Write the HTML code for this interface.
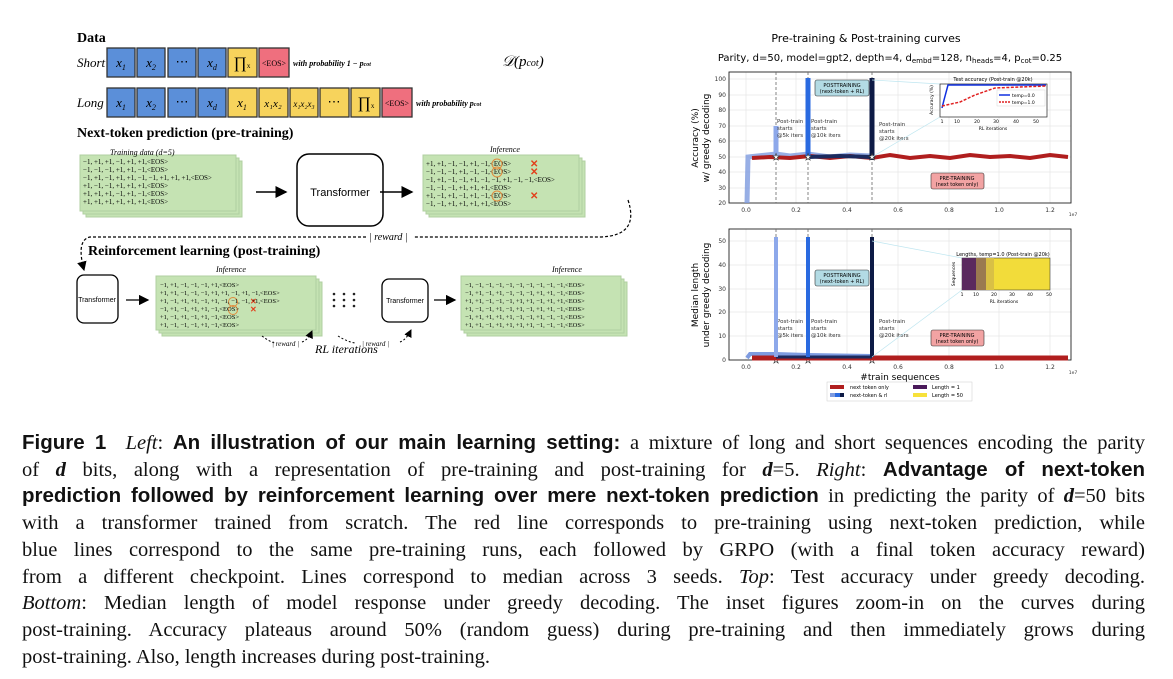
<!DOCTYPE html>
<html><head><meta charset="utf-8"><style>
body{margin:0;background:#fff;width:1173px;height:679px;overflow:hidden;position:relative;font-family:"Liberation Serif",serif}
svg{position:absolute;left:0;top:0}
.cap{position:absolute;left:22px;top:430px;width:1123px;font-size:20.5px;line-height:26.7px;color:#111}
.cap div{text-align:justify;text-align-last:justify;white-space:nowrap}
.cap div.l{text-align-last:left}
.b{font-family:"Liberation Sans",sans-serif;font-weight:bold}
</style></head><body>
<svg width="1173" height="420" viewBox="0 0 1173 420" font-family="Liberation Serif, serif">
<defs>
<marker id="ar" markerWidth="8" markerHeight="8" refX="7" refY="4" orient="auto"><path d="M0,0L8,4L0,8z" fill="#000"/></marker>
</defs>
<text x="77" y="42" font-size="14" font-weight="bold">Data</text>
<text x="77" y="67" font-size="13" font-style="italic">Short</text>
<text x="77" y="107" font-size="13" font-style="italic">Long</text>
<g stroke="#333" stroke-width="1.3">
<rect x="107" y="48" width="28" height="29" fill="#5b8fd9"/><rect x="137" y="48" width="28" height="29" fill="#5b8fd9"/>
<rect x="168" y="48" width="28" height="29" fill="#5b8fd9"/><rect x="198" y="48" width="28" height="29" fill="#5b8fd9"/>
<rect x="228" y="48" width="29" height="29" fill="#f7d35c"/><rect x="259" y="48" width="30" height="29" fill="#ef6f7e"/>
<rect x="107" y="88" width="28" height="29" fill="#5b8fd9"/><rect x="137" y="88" width="28" height="29" fill="#5b8fd9"/>
<rect x="168" y="88" width="28" height="29" fill="#5b8fd9"/><rect x="198" y="88" width="28" height="29" fill="#5b8fd9"/>
<rect x="228" y="88" width="29" height="29" fill="#f7d35c"/><rect x="259" y="88" width="29" height="29" fill="#f7d35c"/>
<rect x="290" y="88" width="28" height="29" fill="#f7d35c"/><rect x="320" y="88" width="29" height="29" fill="#f7d35c"/>
<rect x="351" y="88" width="29" height="29" fill="#f7d35c"/><rect x="382" y="88" width="30" height="29" fill="#ef6f7e"/>
</g>
<g font-size="13" font-style="italic" text-anchor="middle">
<text x="121" y="67">x<tspan font-size="8" dy="3">1</tspan></text><text x="151" y="67">x<tspan font-size="8" dy="3">2</tspan></text>
<text x="182" y="66" font-style="normal">⋯</text><text x="212" y="67">x<tspan font-size="8" dy="3">d</tspan></text>
<text x="242" y="68" font-size="16" font-style="normal">∏<tspan font-size="7">x</tspan></text>
<text x="274" y="66" font-size="8" font-style="normal">&lt;EOS&gt;</text>
<text x="121" y="107">x<tspan font-size="8" dy="3">1</tspan></text><text x="151" y="107">x<tspan font-size="8" dy="3">2</tspan></text>
<text x="182" y="106" font-style="normal">⋯</text><text x="212" y="107">x<tspan font-size="8" dy="3">d</tspan></text>
<text x="242" y="107">x<tspan font-size="8" dy="3">1</tspan></text>
<text x="273" y="107" font-size="11">x₁x₂</text><text x="304" y="107" font-size="9">x₁x₂x₃</text>
<text x="334" y="106" font-style="normal">⋯</text>
<text x="366" y="108" font-size="16" font-style="normal">∏<tspan font-size="7">x</tspan></text>
<text x="397" y="106" font-size="8" font-style="normal">&lt;EOS&gt;</text>
</g>
<text x="293" y="66" font-size="8" font-style="italic" font-weight="bold">with probability 1 − p<tspan font-size="6">cot</tspan></text>
<text x="416" y="106" font-size="8" font-style="italic" font-weight="bold">with probability p<tspan font-size="6">cot</tspan></text>
<text x="502" y="66" font-size="15" font-style="italic">𝒟(p<tspan font-size="10">cot</tspan>)</text>
<text x="77" y="137" font-size="14" font-weight="bold">Next-token prediction (pre-training)</text>
<g fill="#c5e3b3" stroke="#b0cfa0">
<rect x="86" y="161" width="156" height="56"/><rect x="83" y="158" width="156" height="56"/><rect x="80" y="155" width="156" height="56"/>
<rect x="429" y="161" width="156" height="56"/><rect x="426" y="158" width="156" height="56"/><rect x="423" y="155" width="156" height="56"/>
<rect x="162" y="282" width="160" height="54"/><rect x="159" y="279" width="160" height="54"/><rect x="156" y="276" width="160" height="54"/>
<rect x="467" y="282" width="160" height="54"/><rect x="464" y="279" width="160" height="54"/><rect x="461" y="276" width="160" height="54"/>
</g>
<text x="110" y="155" font-size="8" font-style="italic">Training data (d=5)</text>
<g font-size="7">
<text x="83" y="164">−1, +1, +1, −1, +1, +1,&lt;EOS&gt;</text>
<text x="83" y="172">−1, −1, −1, +1, +1, −1,&lt;EOS&gt;</text>
<text x="83" y="180">−1, +1, −1, +1, +1, −1, −1, +1, +1, +1,&lt;EOS&gt;</text>
<text x="83" y="188">+1, −1, −1, +1, +1, +1,&lt;EOS&gt;</text>
<text x="83" y="196">+1, +1, +1, −1, +1, −1,&lt;EOS&gt;</text>
<text x="83" y="204">+1, +1, +1, +1, +1, +1,&lt;EOS&gt;</text>
</g>
<text x="490" y="152" font-size="8" font-style="italic">Inference</text>
<g font-size="7">
<text x="426" y="166">+1, +1, −1, −1, +1, −1,&lt;EOS&gt;</text>
<text x="426" y="174">−1, −1, −1, +1, −1, −1,&lt;EOS&gt;</text>
<text x="426" y="182">−1, +1, −1, −1, +1, −1, −1, +1, −1, −1,&lt;EOS&gt;</text>
<text x="426" y="190">−1, −1, −1, +1, +1, +1,&lt;EOS&gt;</text>
<text x="426" y="198">+1, −1, +1, −1, +1, −1,&lt;EOS&gt;</text>
<text x="426" y="206">−1, −1, +1, +1, +1, +1,&lt;EOS&gt;</text>
</g>
<g fill="none" stroke="#e08a3c"><circle cx="497" cy="164" r="5"/><circle cx="497" cy="172" r="5"/><circle cx="497" cy="196" r="5"/>
<circle cx="233" cy="302" r="4.5"/><circle cx="233" cy="310" r="4.5"/></g>
<g fill="#e2401c" font-size="10" font-weight="bold"><text x="530" y="167">✕</text><text x="530" y="175">✕</text><text x="530" y="199">✕</text>
<text x="250" y="304" font-size="8">✕</text><text x="250" y="312" font-size="8">✕</text></g>
<rect x="297" y="154" width="86" height="72" rx="12" fill="#fff" stroke="#000" stroke-width="1.5"/>
<text x="340" y="196" font-size="11" font-family="Liberation Sans, sans-serif" text-anchor="middle">Transformer</text>
<line x1="256" y1="192" x2="286" y2="192" stroke="#000" stroke-width="1.5" marker-end="url(#ar)"/>
<line x1="380" y1="192" x2="412" y2="192" stroke="#000" stroke-width="1.5" marker-end="url(#ar)"/>
<path d="M628,200 Q640,236 600,237 L414,237 M366,237 L90,237 Q76,240 84,270" fill="none" stroke="#000" stroke-dasharray="3,2" stroke-width="1.2" marker-end="url(#ar)"/>
<text x="369" y="240" font-size="10" font-style="italic">| reward |</text>
<text x="88" y="255" font-size="14" font-weight="bold">Reinforcement learning (post-training)</text>
<rect x="77" y="275" width="41" height="48" rx="7" fill="#fff" stroke="#000" stroke-width="1.3"/>
<text x="97" y="302" font-size="7" font-family="Liberation Sans, sans-serif" text-anchor="middle">Transformer</text>
<line x1="126" y1="300" x2="148" y2="300" stroke="#000" stroke-width="1.3" marker-end="url(#ar)"/>
<text x="216" y="272" font-size="8" font-style="italic">Inference</text>
<g font-size="6.5">
<text x="160" y="287">−1, +1, −1, −1, −1, +1,&lt;EOS&gt;</text>
<text x="160" y="295">+1, +1, −1, −1, −1, +1, +1, −1, +1, −1,&lt;EOS&gt;</text>
<text x="160" y="303">+1, −1, +1, +1, −1, +1, −1, −1, −1, +1,&lt;EOS&gt;</text>
<text x="160" y="311">−1, +1, −1, +1, +1, −1,&lt;EOS&gt;</text>
<text x="160" y="319">+1, −1, +1, −1, +1, −1,&lt;EOS&gt;</text>
<text x="160" y="327">+1, −1, −1, −1, +1, −1,&lt;EOS&gt;</text>
</g>
<g fill="#222"><circle cx="334" cy="294" r="1.3"/><circle cx="334" cy="300" r="1.3"/><circle cx="334" cy="306" r="1.3"/>
<circle cx="344" cy="294" r="1.3"/><circle cx="344" cy="300" r="1.3"/><circle cx="344" cy="306" r="1.3"/>
<circle cx="354" cy="294" r="1.3"/><circle cx="354" cy="300" r="1.3"/><circle cx="354" cy="306" r="1.3"/></g>
<rect x="382" y="279" width="46" height="43" rx="7" fill="#fff" stroke="#000" stroke-width="1.3"/>
<text x="405" y="303" font-size="7" font-family="Liberation Sans, sans-serif" text-anchor="middle">Transformer</text>
<line x1="434" y1="300" x2="455" y2="300" stroke="#000" stroke-width="1.3" marker-end="url(#ar)"/>
<text x="552" y="272" font-size="8" font-style="italic">Inference</text>
<g font-size="6.5">
<text x="465" y="287">−1, −1, −1, −1, −1, −1, −1, −1, −1, −1,&lt;EOS&gt;</text>
<text x="465" y="295">−1, +1, −1, +1, −1, −1, −1, +1, +1, −1,&lt;EOS&gt;</text>
<text x="465" y="303">+1, +1, −1, −1, −1, +1, +1, −1, +1, +1,&lt;EOS&gt;</text>
<text x="465" y="311">+1, −1, −1, +1, −1, +1, −1, +1, +1, −1,&lt;EOS&gt;</text>
<text x="465" y="319">−1, +1, +1, +1, +1, −1, −1, +1, −1, −1,&lt;EOS&gt;</text>
<text x="465" y="327">+1, +1, −1, +1, +1, +1, +1, −1, −1, −1,&lt;EOS&gt;</text>
</g>
<g fill="none" stroke="#000" stroke-dasharray="2,2" stroke-width="1"><path d="M262,336 Q270,342 275,343"/><path d="M302,342 Q308,340 312,331" marker-end="url(#ar)"/>
<path d="M338,336 Q348,342 355,343"/><path d="M400,342 Q406,340 411,330" marker-end="url(#ar)"/></g>
<text x="272" y="346" font-size="7" font-style="italic">| reward |</text>
<text x="362" y="346" font-size="7" font-style="italic">| reward |</text>
<text x="315" y="353" font-size="12" font-style="italic">RL iterations</text>

<g font-family="DejaVu Sans, sans-serif">
<text x="866" y="42" font-size="11" text-anchor="middle">Pre-training &amp; Post-training curves</text>
<text x="890" y="61" font-size="10" text-anchor="middle">Parity, d=50, model=gpt2, depth=4, d<tspan font-size="7" dy="2">embd</tspan><tspan dy="-2">=128, n</tspan><tspan font-size="7" dy="2">heads</tspan><tspan dy="-2">=4, p</tspan><tspan font-size="7" dy="2">cot</tspan><tspan dy="-2">=0.25</tspan></text>
<g stroke="#e6e6e6" stroke-width="0.7">
<line x1="729" y1="79" x2="1071" y2="79"/><line x1="729" y1="95" x2="1071" y2="95"/><line x1="729" y1="110" x2="1071" y2="110"/><line x1="729" y1="126" x2="1071" y2="126"/><line x1="729" y1="141" x2="1071" y2="141"/><line x1="729" y1="157" x2="1071" y2="157"/><line x1="729" y1="172" x2="1071" y2="172"/><line x1="729" y1="188" x2="1071" y2="188"/>
<line x1="746" y1="72" x2="746" y2="203"/><line x1="796" y1="72" x2="796" y2="203"/><line x1="847" y1="72" x2="847" y2="203"/><line x1="898" y1="72" x2="898" y2="203"/><line x1="949" y1="72" x2="949" y2="203"/><line x1="999" y1="72" x2="999" y2="203"/><line x1="1050" y1="72" x2="1050" y2="203"/>
<line x1="746" y1="229" x2="746" y2="360"/><line x1="796" y1="229" x2="796" y2="360"/><line x1="847" y1="229" x2="847" y2="360"/><line x1="898" y1="229" x2="898" y2="360"/><line x1="949" y1="229" x2="949" y2="360"/><line x1="999" y1="229" x2="999" y2="360"/><line x1="1050" y1="229" x2="1050" y2="360"/>
<line x1="729" y1="241" x2="1071" y2="241"/><line x1="729" y1="265" x2="1071" y2="265"/><line x1="729" y1="289" x2="1071" y2="289"/><line x1="729" y1="312" x2="1071" y2="312"/><line x1="729" y1="336" x2="1071" y2="336"/>
</g>
<rect x="729" y="72" width="342" height="131" fill="none" stroke="#222" stroke-width="0.9"/>
<rect x="729" y="229" width="342" height="131" fill="none" stroke="#222" stroke-width="0.9"/>
<g font-size="6" fill="#333" text-anchor="end">
<text x="726" y="81">100</text><text x="726" y="97">90</text><text x="726" y="112">80</text><text x="726" y="128">70</text><text x="726" y="143">60</text><text x="726" y="159">50</text><text x="726" y="174">40</text><text x="726" y="190">30</text><text x="726" y="205">20</text>
<text x="726" y="243">50</text><text x="726" y="267">40</text><text x="726" y="291">30</text><text x="726" y="314">20</text><text x="726" y="338">10</text><text x="726" y="362">0</text>
</g>
<g font-size="6" fill="#333" text-anchor="middle">
<text x="746" y="212">0.0</text><text x="796" y="212">0.2</text><text x="847" y="212">0.4</text><text x="898" y="212">0.6</text><text x="949" y="212">0.8</text><text x="999" y="212">1.0</text><text x="1050" y="212">1.2</text>
<text x="746" y="369">0.0</text><text x="796" y="369">0.2</text><text x="847" y="369">0.4</text><text x="898" y="369">0.6</text><text x="949" y="369">0.8</text><text x="999" y="369">1.0</text><text x="1050" y="369">1.2</text>
<text x="1073" y="216" font-size="4.5">1e7</text><text x="1073" y="374" font-size="4.5">1e7</text>
</g>
<text transform="translate(698,138) rotate(-90)" font-size="9" text-anchor="middle">Accuracy (%)</text>
<text transform="translate(709,138) rotate(-90)" font-size="9" text-anchor="middle">w/ greedy decoding</text>
<text transform="translate(698,295) rotate(-90)" font-size="9" text-anchor="middle">Median length</text>
<text transform="translate(709,295) rotate(-90)" font-size="9" text-anchor="middle">under greedy decoding</text>
<text x="900" y="380" font-size="9" text-anchor="middle">#train sequences</text>
<g stroke="#666" stroke-dasharray="3,2" stroke-width="0.8"><line x1="776" y1="72" x2="776" y2="203"/><line x1="808" y1="72" x2="808" y2="203"/><line x1="872" y1="72" x2="872" y2="203"/>
<line x1="776" y1="229" x2="776" y2="360"/><line x1="808" y1="229" x2="808" y2="360"/><line x1="872" y1="229" x2="872" y2="360"/></g>
<path d="M747,203 L748,157 L776,154 L790,156 L808,154 L830,157 L850,155 L872,156" stroke="#7e9be0" stroke-width="5" fill="none" opacity="0.8"/>
<path d="M752,158 L770,157 L790,158 L810,156 L830,158 L850,156 L872,158 L890,155 L910,158 L930,156 L950,158 L970,155 L990,157 L1010,156 L1030,158 L1050,155 L1068,157" stroke="#b01e1e" stroke-width="4" fill="none"/>
<path d="M808,157 L840,156 L872,157" stroke="#1b2a5e" stroke-width="4" fill="none"/>
<line x1="776" y1="157" x2="776" y2="126" stroke="#8da8ea" stroke-width="5"/>
<line x1="808" y1="157" x2="808" y2="78" stroke="#2a6ae0" stroke-width="5"/>
<line x1="872" y1="160" x2="872" y2="78" stroke="#0d1a45" stroke-width="5"/>
<g fill="#fff" stroke="#333" stroke-width="0.6" font-size="9" text-anchor="middle"><text x="776" y="160">★</text><text x="808" y="160">★</text><text x="872" y="160">★</text>
<text x="776" y="363">★</text><text x="808" y="363">★</text><text x="872" y="363">★</text></g>
<g font-size="5.5" fill="#333"><text x="777" y="123">Post-train</text><text x="777" y="130">starts</text><text x="777" y="137">@5k iters</text>
<text x="811" y="123">Post-train</text><text x="811" y="130">starts</text><text x="811" y="137">@10k iters</text>
<text x="879" y="126">Post-train</text><text x="879" y="133">starts</text><text x="879" y="140">@20k iters</text>
<text x="777" y="323">Post-train</text><text x="777" y="330">starts</text><text x="777" y="337">@5k iters</text>
<text x="811" y="323">Post-train</text><text x="811" y="330">starts</text><text x="811" y="337">@10k iters</text>
<text x="879" y="323">Post-train</text><text x="879" y="330">starts</text><text x="879" y="337">@20k iters</text></g>
<rect x="815" y="80" width="54" height="16" fill="#b3dbe4" stroke="#333" stroke-width="0.6" rx="2"/>
<text x="842" y="87" font-size="5" text-anchor="middle">POSTTRAINING</text><text x="842" y="93" font-size="5" text-anchor="middle">(next-token + RL)</text>
<rect x="931" y="173" width="53" height="16" fill="#f2a3a3" stroke="#333" stroke-width="0.6" rx="2"/>
<text x="957" y="180" font-size="5" text-anchor="middle">PRE-TRAINING</text><text x="957" y="186" font-size="5" text-anchor="middle">(next token only)</text>
<line x1="872" y1="80" x2="940" y2="84" stroke="#bfe6f0" stroke-width="0.7"/><line x1="872" y1="157" x2="940" y2="117" stroke="#bfe6f0" stroke-width="0.7"/>
<rect x="940" y="84" width="107" height="33" fill="#fff" stroke="#222" stroke-width="0.7"/>
<text x="993" y="81" font-size="5" text-anchor="middle">Test accuracy (Post-train @20k)</text>
<path d="M942,108 L944,100 L948,85 L1046,85" stroke="#1030e0" stroke-width="1.5" fill="none"/>
<path d="M942,106 L960,102 L975,95 L995,88 L1046,86" stroke="#e02020" stroke-width="1.5" stroke-dasharray="3,1.5" fill="none"/>
<rect x="997" y="90" width="48" height="16" fill="#fff" stroke="#ccc" stroke-width="0.4"/>
<line x1="999" y1="95" x2="1010" y2="95" stroke="#1030e0" stroke-width="1.5"/><text x="1012" y="97" font-size="4.5">temp=0.0</text>
<line x1="999" y1="102" x2="1010" y2="102" stroke="#e02020" stroke-width="1.5" stroke-dasharray="2,1"/><text x="1012" y="104" font-size="4.5">temp=1.0</text>
<g font-size="4.5" text-anchor="middle"><text x="942" y="123">1</text><text x="957" y="123">10</text><text x="977" y="123">20</text><text x="996" y="123">30</text><text x="1016" y="123">40</text><text x="1036" y="123">50</text><text x="993" y="130">RL iterations</text></g>
<text transform="translate(933,100) rotate(-90)" font-size="4.5" text-anchor="middle">Accuracy (%)</text>
<path d="M747,358 L750,354 L776,354 L808,355 L872,356" stroke="#7e9be0" stroke-width="4" fill="none"/>
<path d="M752,358 L1068,358" stroke="#b01e1e" stroke-width="5"/>
<path d="M776,357 L872,357" stroke="#1b2a5e" stroke-width="3"/>
<line x1="776" y1="357" x2="776" y2="237" stroke="#8da8ea" stroke-width="4"/>
<line x1="808" y1="357" x2="808" y2="237" stroke="#2a6ae0" stroke-width="4"/>
<line x1="872" y1="357" x2="872" y2="237" stroke="#0d1a45" stroke-width="4"/>
<rect x="815" y="270" width="54" height="16" fill="#b3dbe4" stroke="#333" stroke-width="0.6" rx="2"/>
<text x="842" y="277" font-size="5" text-anchor="middle">POSTTRAINING</text><text x="842" y="283" font-size="5" text-anchor="middle">(next-token + RL)</text>
<rect x="931" y="330" width="53" height="16" fill="#f2a3a3" stroke="#333" stroke-width="0.6" rx="2"/>
<text x="957" y="337" font-size="5" text-anchor="middle">PRE-TRAINING</text><text x="957" y="343" font-size="5" text-anchor="middle">(next token only)</text>
<line x1="872" y1="241" x2="962" y2="258" stroke="#bfe6f0" stroke-width="0.7"/><line x1="872" y1="357" x2="962" y2="290" stroke="#bfe6f0" stroke-width="0.7"/>
<text x="1003" y="256" font-size="5" text-anchor="middle">Lengths, temp=1.0 (Post-train @20k)</text>
<rect x="962" y="258" width="88" height="32" fill="#f2dc3a" stroke="#222" stroke-width="0.5"/>
<rect x="962" y="258" width="14" height="32" fill="#5a2a5e"/>
<rect x="976" y="258" width="10" height="32" fill="#9a7a50"/>
<rect x="986" y="258" width="8" height="32" fill="#d9c045"/>
<g font-size="4.5" text-anchor="middle"><text x="962" y="296">1</text><text x="976" y="296">10</text><text x="994" y="296">20</text><text x="1012" y="296">30</text><text x="1030" y="296">40</text><text x="1049" y="296">50</text><text x="1004" y="303">RL iterations</text></g>
<text transform="translate(955,274) rotate(-90)" font-size="4.5" text-anchor="middle">Sequences</text>
<rect x="827" y="382" width="145" height="19" fill="#fff" stroke="#ccc" stroke-width="0.5"/>
<rect x="830" y="385" width="14" height="4" fill="#b01e1e"/><text x="850" y="389" font-size="5">next token only</text>
<rect x="830" y="393" width="5" height="4" fill="#7e9be0"/><rect x="835" y="393" width="5" height="4" fill="#2a6ae0"/><rect x="840" y="393" width="4" height="4" fill="#0d1a45"/><text x="850" y="397" font-size="5">next-token &amp; rl</text>
<rect x="913" y="385" width="14" height="4" fill="#4a1a5a"/><text x="932" y="389" font-size="5">Length = 1</text>
<rect x="913" y="393" width="14" height="4" fill="#f7e13a"/><text x="932" y="397" font-size="5">Length = 50</text>
</g>
</svg>
<div class="cap">
<div><span class="b">Figure 1</span>&nbsp; <i>Left</i>: <span class="b">An illustration of our main learning setting:</span> a mixture of long and short sequences encoding the parity</div>
<div>of <b><i>d</i></b> bits, along with a representation of pre-training and post-training for <b><i>d</i></b>=5. <i>Right</i>: <span class="b">Advantage of next-token</span></div>
<div><span class="b">prediction followed by reinforcement learning over mere next-token prediction</span> in predicting the parity of <b><i>d</i></b>=50 bits</div>
<div>with a transformer trained from scratch. The red line corresponds to pre-training using next-token prediction, while</div>
<div>blue lines correspond to the same pre-training runs, each followed by GRPO (with a final token accuracy reward)</div>
<div>from a different checkpoint. Lines correspond to median across 3 seeds. <i>Top</i>: Test accuracy under greedy decoding.</div>
<div><i>Bottom</i>: Median length of model response under greedy decoding. The inset figures zoom-in on the curves during</div>
<div>post-training. Accuracy plateaus around 50% (random guess) during pre-training and then immediately grows during</div>
<div class="l">post-training. Also, length increases during post-training.</div>
</div>
</body></html>
